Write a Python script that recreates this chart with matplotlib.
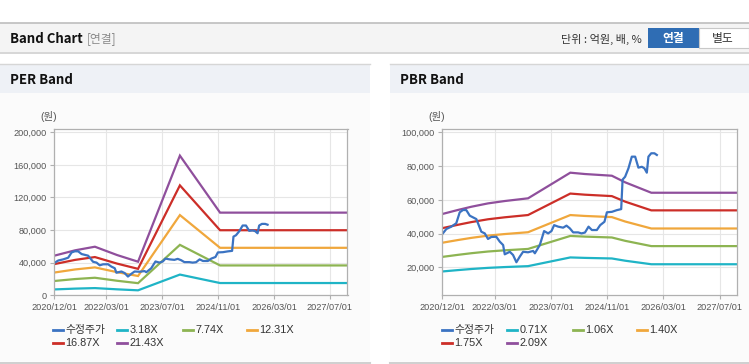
import numpy as np
import pandas as pd
import matplotlib
matplotlib.use('Agg')
import matplotlib.pyplot as plt
import matplotlib.dates as mdates
from matplotlib.patches import Rectangle
from matplotlib.lines import Line2D

plt.rcParams['font.family'] = ['Liberation Sans', 'Noto Sans CJK KR', 'DejaVu Sans']

W, H = 749, 364

# 수정주가 (same series on both charts)
price_dates = ['2020-12-01', '2021-01-05', '2021-02-17', '2021-04-01', '2021-05-01', '2021-05-30',
               '2021-06-27', '2021-07-27', '2021-09-22', '2021-11-04', '2021-12-04', '2022-01-01',
               '2022-01-30', '2022-03-14', '2022-04-13', '2022-05-12', '2022-05-26', '2022-07-09',
               '2022-08-06', '2022-09-04', '2022-10-03', '2022-11-01', '2022-12-14', '2023-01-27',
               '2023-02-11', '2023-03-26', '2023-05-02', '2023-06-06', '2023-07-05', '2023-07-28',
               '2023-09-01', '2023-10-14', '2023-11-12', '2023-12-11', '2024-01-09', '2024-02-21',
               '2024-03-21', '2024-04-20', '2024-05-21', '2024-06-19', '2024-08-01', '2024-08-30',
               '2024-10-06', '2024-10-27', '2024-12-10', '2025-01-22', '2025-02-28', '2025-03-12',
               '2025-04-03', '2025-05-02', '2025-05-31', '2025-06-29', '2025-07-27', '2025-08-26',
               '2025-09-17', '2025-10-08', '2025-10-22', '2025-11-15', '2025-12-13', '2026-01-03']
price = [39700, 42700, 44100, 46100, 52600, 54000,
         53900, 50600, 48600, 41100, 40100, 36800,
         38000, 38100, 35200, 33200, 27700, 29200,
         27300, 23000, 26300, 29200, 28900, 29700,
         28300, 33200, 41500, 40100, 41500, 45000,
         44100, 43500, 44700, 43100, 40700, 40700,
         40100, 40600, 44100, 42100, 42100, 45000,
         47000, 52600, 52900, 53900, 54500, 72000,
         73700, 78700, 85600, 85600, 79100, 79600,
         78700, 76100, 85600, 87600, 87600, 86600]

# PER band: EPS (원) and multiples
per_dates = ['2020-12-01', '2021-06-01', '2021-11-20', '2022-06-01', '2022-12-01',
             '2023-12-01', '2024-11-15', '2027-12-01']
per_eps = [2268, 2576, 2781, 2305, 1923, 7994, 4732, 4732]
per_mult = [3.18, 7.74, 12.31, 16.87, 21.43]

# PBR band: BPS (원) and multiples
pbr_dates = ['2020-12-01', '2021-04-16', '2021-08-10', '2022-01-01', '2022-05-26', '2022-12-14',
             '2023-12-15', '2024-04-20', '2024-12-09', '2025-04-03', '2025-11-16', '2027-12-01']
pbr_bps = [24690, 25840, 26750, 27700, 28370, 29140, 36410, 36030, 35550, 33680, 30720, 30720]
pbr_mult = [0.71, 1.06, 1.40, 1.75, 2.09]

xtick_dates = ['2020-12-01', '2022-03-01', '2023-07-01', '2024-11-01', '2026-03-01', '2027-07-01']
x_range = ['2020-12-01', '2027-12-01']

price_color = '#3b73c2'
band_colors = ['#1fb4c6', '#8db452', '#f0a73c', '#cc2e28', '#8f4f9c']


def rect(fig, x, y, w, h, fc, ec='none', lw=0, z=0):
    fig.add_artist(Rectangle((x / W, 1 - (y + h) / H), w / W, h / H, transform=fig.transFigure,
                             facecolor=fc, edgecolor=ec, linewidth=lw, zorder=z))


def hline(fig, x0, x1, y, color, lw=1.0):
    fig.add_artist(Line2D([x0 / W, x1 / W], [1 - y / H, 1 - y / H], transform=fig.transFigure,
                          color=color, linewidth=lw))


def ftext(fig, x, y, s, **kw):
    fig.text(x / W, 1 - y / H, s, **kw)


fig = plt.figure(figsize=(W / 100, H / 100), dpi=100)
fig.patch.set_facecolor('white')

# header bar
rect(fig, 0, 23, W, 29, '#f4f4f4')
hline(fig, 0, W, 22.5, '#bdbdbd', 1.2)
hline(fig, 0, W, 52.5, '#cfcfcf', 1.2)
ftext(fig, 10, 39, 'Band Chart', family='Noto Sans CJK KR', fontweight='bold', fontsize=9.5,
      color='#111111', va='center')
ftext(fig, 87, 39, '[연결]', family='Noto Sans CJK KR', fontsize=8.5, color='#8a8a8a', va='center')
ftext(fig, 642, 39, '단위 : 억원, 배, %', family='Noto Sans CJK KR', fontsize=8, color='#333333',
      va='center', ha='right')
rect(fig, 648, 28, 51, 20, '#2f6db4', z=1)
rect(fig, 699, 28, 50, 20, 'white', ec='#c8c8c8', lw=0.8, z=1)
ftext(fig, 673.5, 38.5, '연결', family='Noto Sans CJK KR', fontweight='bold', fontsize=8.5,
      color='white', va='center', ha='center', zorder=2)
ftext(fig, 723, 38.5, '별도', family='Noto Sans CJK KR', fontsize=8.5, color='#333333',
      va='center', ha='center', zorder=2)

panels = [(0, 370, 'PER Band'), (390, 359, 'PBR Band')]
for px, pw, title in panels:
    rect(fig, px, 64, pw, 29, '#eef1f6')
    rect(fig, px, 93, pw, 268, '#fbfbfb')
    hline(fig, px, px + pw, 64, '#d6d6d6', 1.0)
    hline(fig, px, px + pw, 362.5, '#d0d0d0', 1.5)
    ftext(fig, px + 10, 80, title, family='Noto Sans CJK KR', fontweight='bold', fontsize=9.5,
          color='#111111', va='center')

xt = pd.to_datetime(xtick_dates)
xr = pd.to_datetime(x_range)
pdts = pd.to_datetime(price_dates)


def setup_axes(rect_px, ylim, yticks):
    x0, x1, y0, y1 = rect_px
    ax = fig.add_axes([x0 / W, 1 - y1 / H, (x1 - x0) / W, (y1 - y0) / H])
    ax.set_facecolor('white')
    ax.set_xlim(xr[0], xr[1])
    ax.set_ylim(*ylim)
    ax.set_xticks(xt)
    ax.xaxis.set_major_formatter(mdates.DateFormatter('%Y/%m/%d'))
    ax.set_yticks(yticks)
    ax.set_yticklabels([f'{v:,}' for v in yticks])
    ax.grid(True, color='#e6e6e6', linewidth=0.8)
    ax.set_axisbelow(True)
    for s in ax.spines.values():
        s.set_color('#b0b0b0')
        s.set_linewidth(0.9)
    ax.tick_params(axis='both', length=3, width=0.8, color='#b0b0b0', labelsize=6.6,
                   labelcolor='#555555', pad=2.5)
    return ax


def legend(x_cols, labels, colors):
    rows = [330, 343]
    for i, (lab, col) in enumerate(zip(labels, colors)):
        r, c = divmod(i, 4)
        x = x_cols[c]
        y = rows[r]
        fig.add_artist(Line2D([x / W, (x + 10) / W], [1 - y / H, 1 - y / H], transform=fig.transFigure,
                              color=col, linewidth=2))
        ftext(fig, x + 12.5, y, lab, fontsize=7.8, color='#333333', va='center')


# PER chart
ax1 = setup_axes((54.3, 347.5, 129, 295.3), (0, 204000), [0, 40000, 80000, 120000, 160000, 200000])
pd1 = pd.to_datetime(per_dates)
for m, col in zip(per_mult, band_colors):
    ax1.plot(pd1, np.array(per_eps) * m, color=col, linewidth=1.6, solid_joinstyle='miter')
ax1.plot(pdts, price, color=price_color, linewidth=1.6)
ftext(fig, 49, 117, '(원)', fontsize=7.5, color='#555555', va='center', ha='center')
legend([53, 117, 183, 247], ['수정주가'] + [f'{m:.2f}X' for m in per_mult],
       [price_color] + band_colors)

# PBR chart
ax2 = setup_axes((442.3, 737.3, 129, 295.3), (3400, 102000), [20000, 40000, 60000, 80000, 100000])
pd2 = pd.to_datetime(pbr_dates)
for m, col in zip(pbr_mult, band_colors):
    ax2.plot(pd2, np.array(pbr_bps) * m, color=col, linewidth=1.6, solid_joinstyle='miter')
ax2.plot(pdts, price, color=price_color, linewidth=1.6)
ftext(fig, 437, 117, '(원)', fontsize=7.5, color='#555555', va='center', ha='center')
legend([442, 507, 573, 637], ['수정주가'] + [f'{m:.2f}X' for m in pbr_mult],
       [price_color] + band_colors)

fig.savefig('out.png', dpi=100, facecolor='white')
